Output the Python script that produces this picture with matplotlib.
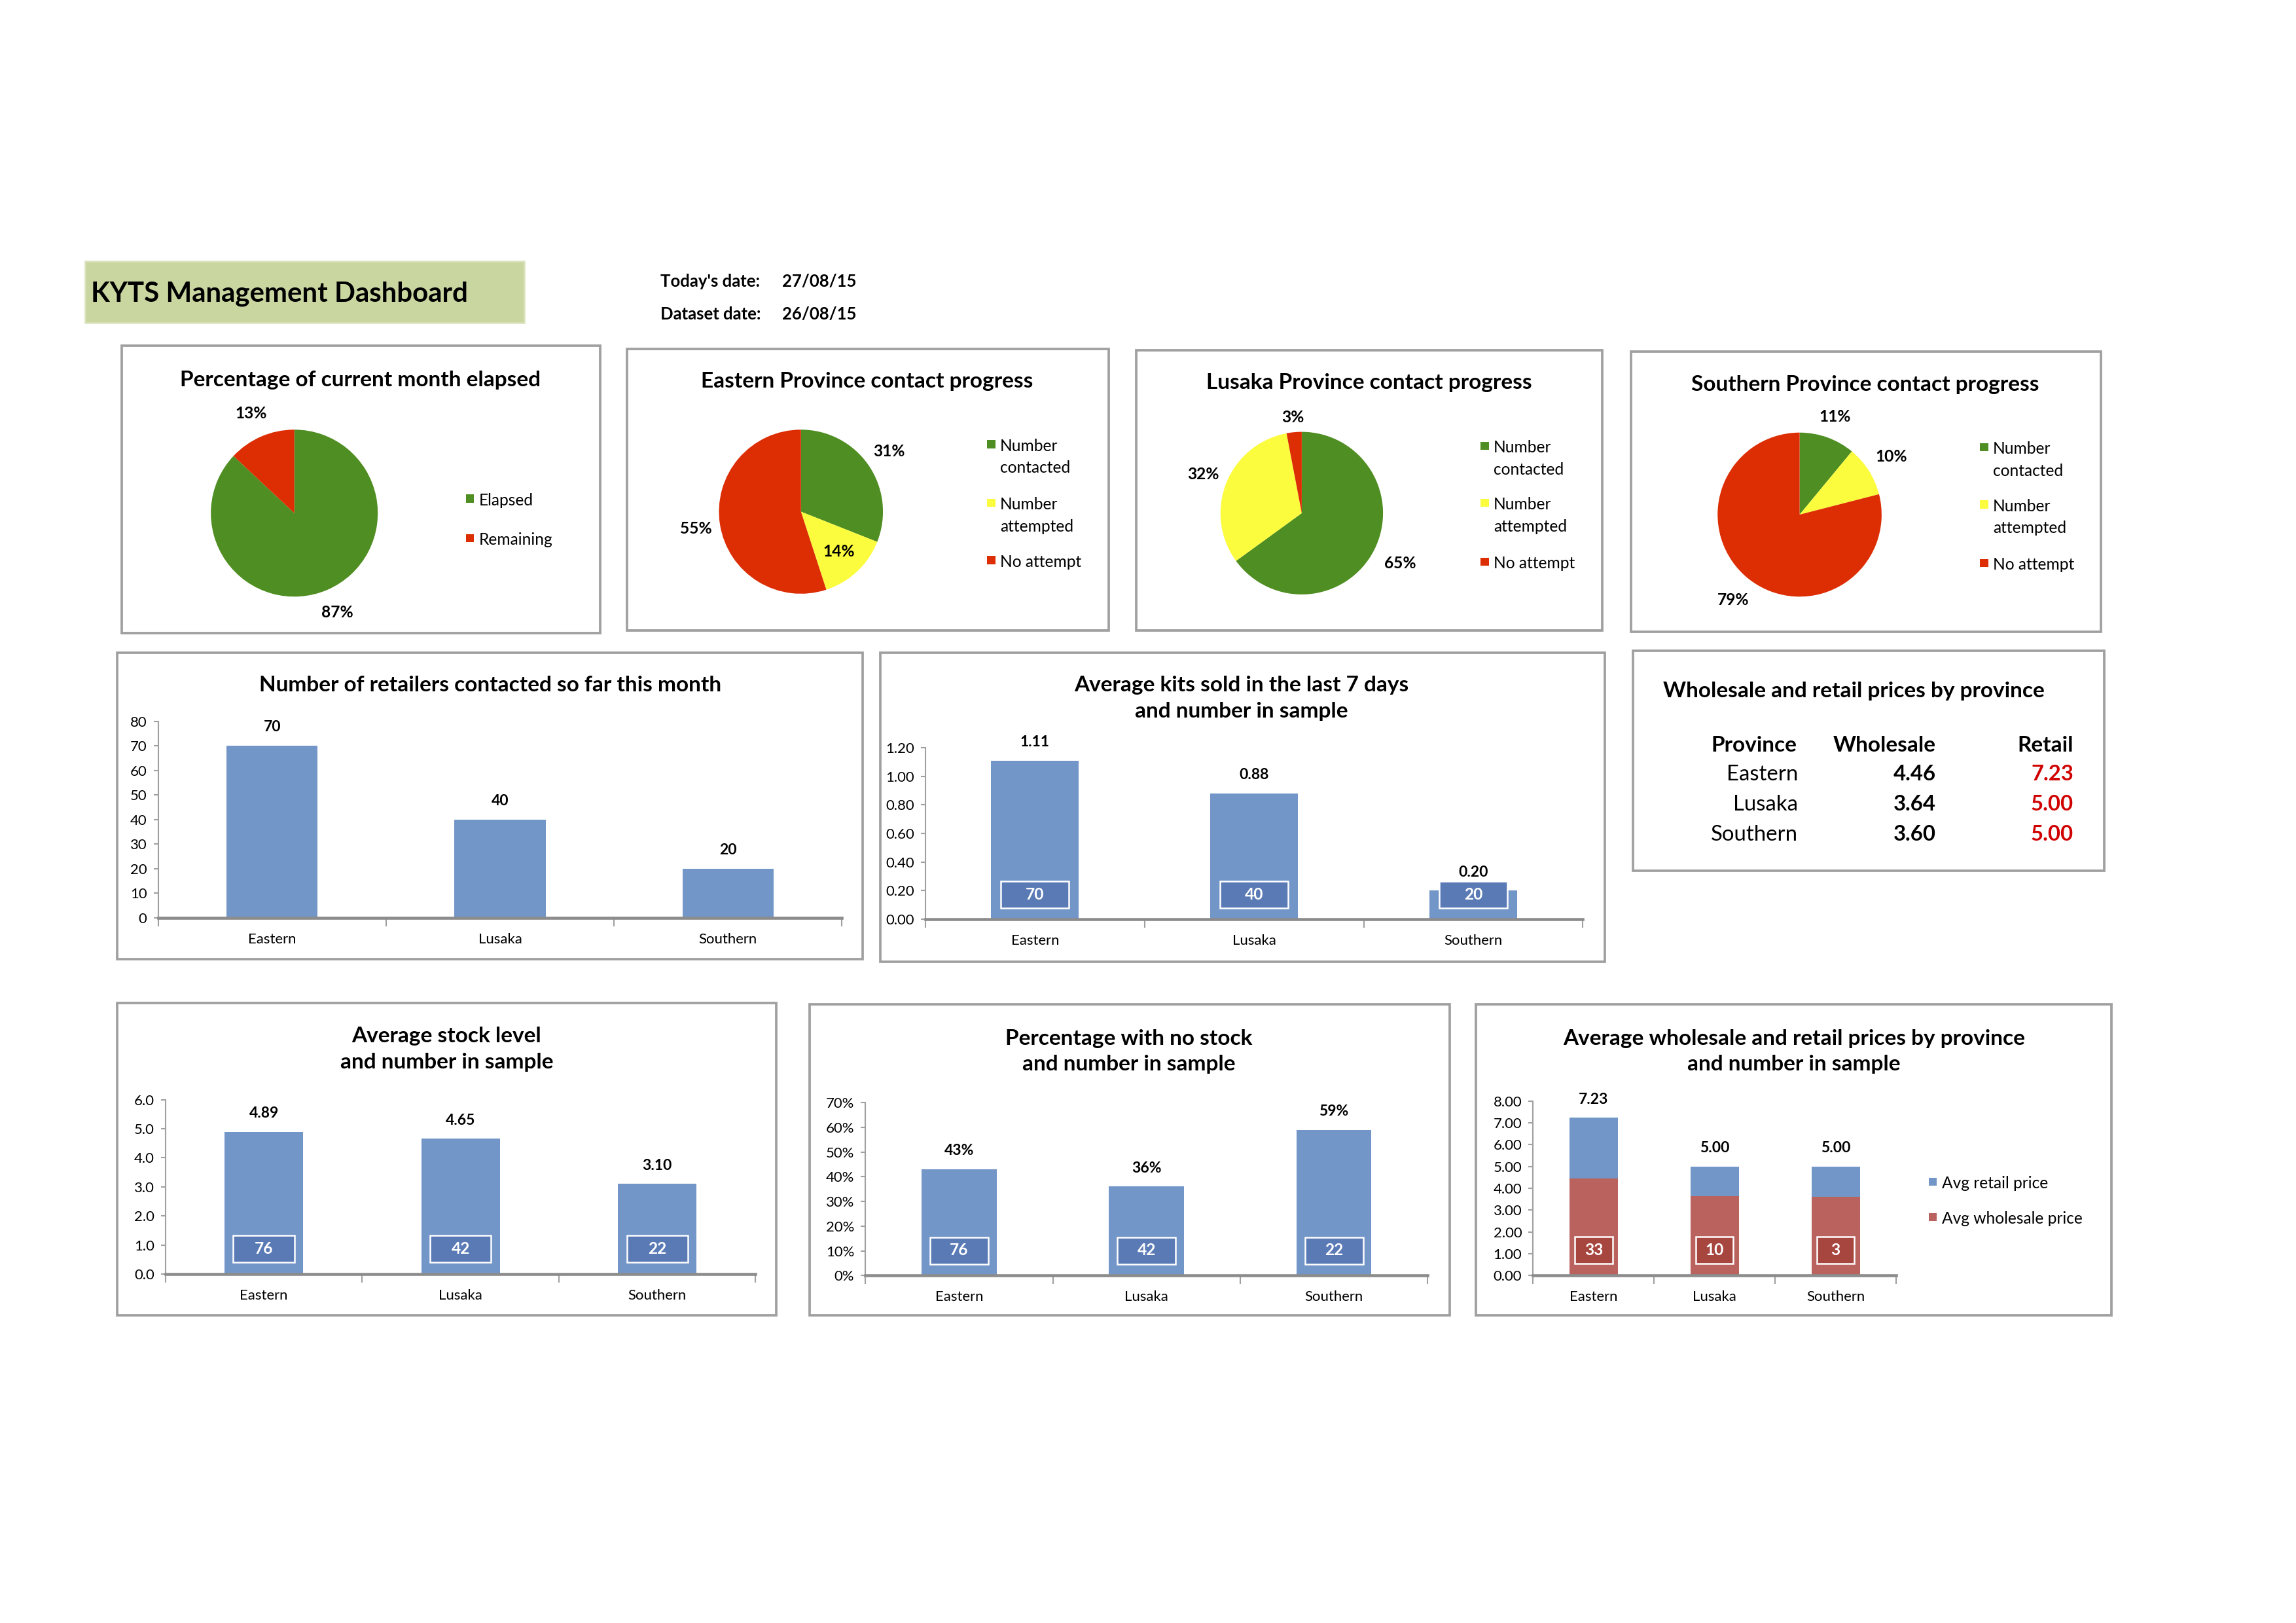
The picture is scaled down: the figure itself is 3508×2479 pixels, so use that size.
import matplotlib.pyplot as plt
import numpy as np
from matplotlib.patches import Rectangle
from matplotlib.ticker import MultipleLocator, FormatStrFormatter, FuncFormatter

plt.rcParams['font.family'] = ['Lato', 'DejaVu Sans']

W, H = 1568.0, 1107.0

# ---------------- data ----------------
today_date = '27/08/15'
dataset_date = '26/08/15'

month_labels = ['Elapsed', 'Remaining']
month_pct = [87, 13]

contact_labels = ['Number\ncontacted', 'Number\nattempted', 'No attempt']
eastern_contact = [31, 14, 55]
lusaka_contact = [65, 32, 3]
southern_contact = [11, 10, 79]

provinces = ['Eastern', 'Lusaka', 'Southern']
retailers_contacted = [70, 40, 20]
kits_sold = [1.11, 0.88, 0.20]
kits_sample = [70, 40, 20]
stock_level = [4.89, 4.65, 3.10]
stock_sample = [76, 42, 22]
no_stock_pct = [43, 36, 59]
no_stock_sample = [76, 42, 22]
wholesale_price = [4.46, 3.64, 3.60]
retail_price = [7.23, 5.00, 5.00]
price_sample = [33, 10, 3]

GREEN = '#4F8E22'
RED = '#DC2D03'
YELLOW = '#FCFC3E'
BLUE = '#7396C8'
BLUE_DARK = '#5A7AB6'
BROWN = '#B9625E'
BROWN_DARK = '#A7463F'
TABLE_RED = '#D00000'

fig = plt.figure(figsize=(3508 / 300, 2479 / 300), dpi=300)


def rect(x0, y0, x1, y1):
    return [x0 / W, 1 - y1 / H, (x1 - x0) / W, (y1 - y0) / H]


def text(x, y, s, **kw):
    kw.setdefault('va', 'center')
    # small nudge: matplotlib centres on the full bbox incl. descenders
    return fig.text(x / W, 1 - (y + 1.2) / H, s, **kw)


def frame(x0, y0, x1, y1):
    fig.patches.append(Rectangle((x0 / W, 1 - y1 / H), (x1 - x0) / W, (y1 - y0) / H,
                                 transform=fig.transFigure, facecolor='white',
                                 edgecolor='#A0A0A0', linewidth=0.9, zorder=-5))


def legend(x, ys, labels, colors, step=15, size=5.9):
    for y, lab, c in zip(ys, labels, colors):
        s = 5.5
        fig.patches.append(Rectangle(((x - s / 2) / W, 1 - (y + s / 2) / H), s / W, s / H,
                                     transform=fig.transFigure, facecolor=c,
                                     edgecolor='none', zorder=2))
        for k, line in enumerate(lab.split('\n')):
            text(x + 6, y + k * step, line, fontsize=size, ha='left')


def pie_panel(center, r, values, colors, dists):
    cx, cy = center
    ax = fig.add_axes(rect(cx - r, cy - r, cx + r, cy + r))
    wedges, _ = ax.pie(values, colors=colors, startangle=90, counterclock=False,
                       wedgeprops=dict(linewidth=0))
    total = float(sum(values))
    for w, v, d in zip(wedges, values, dists):
        ang = np.deg2rad((w.theta1 + w.theta2) / 2)
        ax.text(d * np.cos(ang), d * np.sin(ang), '%d%%' % round(100 * v / total),
                ha='center', va='center', fontsize=5.9, fontweight='bold')
    ax.set_xlim(-1, 1)
    ax.set_ylim(-1, 1)
    ax.set_aspect('equal')
    ax.axis('off')
    return ax


def style_bar_axis(ax, ylim, step, fmt):
    ax.set_xlim(-0.5, 2.5)
    ax.set_ylim(*ylim)
    ax.patch.set_visible(False)
    for s in ['top', 'right']:
        ax.spines[s].set_visible(False)
    ax.spines['left'].set_color('#A0A0A0')
    ax.spines['left'].set_linewidth(0.5)
    ax.spines['bottom'].set_color('#8C8C8C')
    ax.spines['bottom'].set_linewidth(1.1)
    ax.yaxis.set_major_locator(MultipleLocator(step))
    ax.yaxis.set_major_formatter(fmt)
    ax.set_xticks(range(len(provinces)))
    ax.set_xticklabels(provinces)
    ax.set_xticks([-0.5, 0.5, 1.5, 2.5], minor=True)
    ax.tick_params(axis='x', which='major', length=0, pad=5.5, labelsize=5.3)
    ax.tick_params(axis='x', which='minor', length=3, width=0.5, color='#A0A0A0',
                   direction='out')
    ax.tick_params(axis='y', length=1.6, width=0.5, color='#A0A0A0', pad=2.5,
                   labelsize=5.3)


def value_labels(ax, heights, labels):
    for i, (h, lab) in enumerate(zip(heights, labels)):
        ax.annotate(lab, (i, h), xytext=(0, 6.8), textcoords='offset points',
                    ha='center', va='center', fontsize=5.5, fontweight='bold')


def sample_boxes(ax, samples, color):
    x = np.arange(len(samples))
    ax.bar(x, 0.155, bottom=0.067, width=0.31, color=color, edgecolor='white',
           linewidth=0.6, transform=ax.get_xaxis_transform(), zorder=3)
    for i, n in enumerate(samples):
        ax.text(i, 0.145, str(n), transform=ax.get_xaxis_transform(), ha='center',
                va='center', color='white', fontsize=5.9, fontweight='bold', zorder=4)


# ---------------- header ----------------
fig.patches.append(Rectangle((58 / W, 1 - 220 / H), 300 / W, 42 / H,
                             transform=fig.transFigure, facecolor='#C9D6A0',
                             edgecolor='#D9E2BC', linewidth=0.6, zorder=-5))
text(62, 199, 'KYTS Management Dashboard', fontsize=10.1, fontweight='bold', ha='left')
text(451, 191, "Today's date:", fontsize=6.2, fontweight='bold', ha='left')
text(534, 191, today_date, fontsize=6.2, fontweight='bold', ha='left')
text(451, 213, 'Dataset date:', fontsize=6.2, fontweight='bold', ha='left')
text(534, 213, dataset_date, fontsize=6.2, fontweight='bold', ha='left')

TITLE = dict(fontsize=8.0, fontweight='bold', ha='center', linespacing=1.45)

# ---------------- row 1: pies ----------------
frame(83, 236, 410, 432)
text(246, 258, 'Percentage of current month elapsed', **TITLE)
pie_panel((201, 350), 57, month_pct, [GREEN, RED], [1.3, 1.3])
legend(321, [340, 367], month_labels, [GREEN, RED])

contact_colors = [GREEN, YELLOW, RED]

frame(428, 238, 757, 430)
text(592, 259, 'Eastern Province contact progress', **TITLE)
pie_panel((547, 349), 56, eastern_contact, contact_colors, [1.3, 0.67, 1.3])
legend(677, [303, 343, 382], contact_labels, contact_colors)

frame(776, 239, 1094, 430)
text(935, 260, 'Lusaka Province contact progress', **TITLE)
pie_panel((889, 350), 55.5, lusaka_contact, contact_colors, [1.36, 1.3, 1.18])
legend(1014, [304, 343, 383], contact_labels, contact_colors)

frame(1114, 240, 1435, 431)
text(1274, 261, 'Southern Province contact progress', **TITLE)
pie_panel((1229, 351), 56, southern_contact, contact_colors, [1.27, 1.32, 1.32])
legend(1355, [305, 344, 384], contact_labels, contact_colors)

# ---------------- row 2 ----------------
x = np.arange(len(provinces))

frame(80, 445, 589, 654)
text(335, 466, 'Number of retailers contacted so far this month', **TITLE)
ax = fig.add_axes(rect(108, 492, 575, 626))
ax.bar(x, retailers_contacted, width=0.4, color=BLUE, zorder=2)
style_bar_axis(ax, (0, 80), 10, FormatStrFormatter('%d'))
value_labels(ax, retailers_contacted, [str(v) for v in retailers_contacted])

frame(601, 445, 1096, 656)
text(848, 475, 'Average kits sold in the last 7 days\nand number in sample', **TITLE)
ax = fig.add_axes(rect(632, 510, 1081, 627))
ax.bar(x, kits_sold, width=0.4, color=BLUE, zorder=2)
style_bar_axis(ax, (0, 1.2), 0.2, FormatStrFormatter('%.2f'))
value_labels(ax, kits_sold, ['%.2f' % v for v in kits_sold])
sample_boxes(ax, kits_sample, BLUE_DARK)

# price table
frame(1115, 444, 1437, 594)
text(1266, 470, 'Wholesale and retail prices by province', fontsize=8.0,
     fontweight='bold', ha='center')
text(1227, 507, 'Province', fontsize=8.0, fontweight='bold', ha='right')
text(1322, 507, 'Wholesale', fontsize=8.0, fontweight='bold', ha='right')
text(1416, 507, 'Retail', fontsize=8.0, fontweight='bold', ha='right')
for k, (p, w, r) in enumerate(zip(provinces, wholesale_price, retail_price)):
    y = 527 + k * 20.5
    text(1228, y, p, fontsize=7.9, ha='right')
    text(1322, y, '%.2f' % w, fontsize=7.9, fontweight='bold', ha='right')
    text(1416, y, '%.2f' % r, fontsize=7.9, fontweight='bold', ha='right',
         color=TABLE_RED)

# ---------------- row 3 ----------------
frame(80, 684, 530, 897)
text(305, 714.5, 'Average stock level\nand number in sample', **TITLE)
ax = fig.add_axes(rect(113, 750, 516, 869))
ax.bar(x, stock_level, width=0.4, color=BLUE, zorder=2)
style_bar_axis(ax, (0, 6), 1, FormatStrFormatter('%.1f'))
value_labels(ax, stock_level, ['%.2f' % v for v in stock_level])
sample_boxes(ax, stock_sample, BLUE_DARK)

frame(553, 685, 990, 897)
text(771, 716, 'Percentage with no stock\nand number in sample', **TITLE)
ax = fig.add_axes(rect(591, 752, 975, 870))
ax.bar(x, no_stock_pct, width=0.4, color=BLUE, zorder=2)
style_bar_axis(ax, (0, 70), 10, FuncFormatter(lambda v, p: '%d%%' % v))
value_labels(ax, no_stock_pct, ['%d%%' % v for v in no_stock_pct])
sample_boxes(ax, no_stock_sample, BLUE_DARK)

frame(1008, 685, 1442, 897)
text(1225, 716, 'Average wholesale and retail prices by province\nand number in sample',
     **TITLE)
ax = fig.add_axes(rect(1047, 751, 1295, 870))
ax.bar(x, retail_price, width=0.4, color=BLUE, zorder=2)
ax.bar(x, wholesale_price, width=0.4, color=BROWN, zorder=2)
style_bar_axis(ax, (0, 8), 1, FormatStrFormatter('%.2f'))
value_labels(ax, retail_price, ['%.2f' % v for v in retail_price])
sample_boxes(ax, price_sample, BROWN_DARK)
legend(1320, [806, 830], ['Avg retail price', 'Avg wholesale price'], [BLUE, BROWN])

fig.savefig('out.png', dpi=300)
